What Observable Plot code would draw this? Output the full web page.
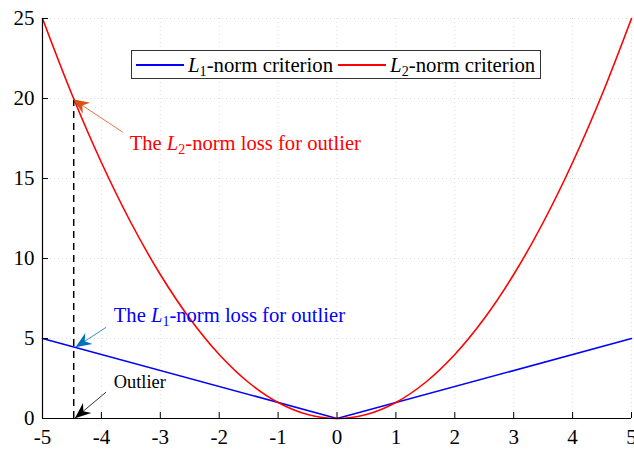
<!DOCTYPE html>
<html>
<head>
<meta charset="utf-8">
<script src="https://cdn.jsdelivr.net/npm/d3@7"></script>
<script src="https://cdn.jsdelivr.net/npm/@observablehq/plot@0.6"></script>
<style>
  body { margin: 0; background: #fff; }
  #wrap { position: relative; width: 634px; height: 451px; overflow: hidden;
          font-family: "Liberation Serif", "Times New Roman", serif; }
  #legend { position: absolute; left: 131px; top: 50px; height: 27px; box-sizing: content-box;
            border: 1px solid #333; background: #fff; display: flex; align-items: center;
            padding: 0 5px 0 3px; font-size: 20.8px; white-space: nowrap; color: #000; }
  #legend .sw { display: inline-block; width: 48px; height: 0; border-top: 2px solid; margin: 0 4px 0 1px; }
  #legend .item { display: inline-flex; align-items: center; }
  #legend .item + .item { margin-left: 4px; }
  sub { font-size: 68%; vertical-align: -0.3em; line-height: 0; }
</style>
</head>
<body>
<div id="wrap"></div>
<script>
// Axis ticks
const xTicks = [-5, -4, -3, -2, -1, 0, 1, 2, 3, 4, 5];
const yTicks = [0, 5, 10, 15, 20, 25];

// L2-norm loss (squared error) sampled along x
const l2X = [-5, -4.5, -4, -3.5, -3, -2.5, -2, -1.5, -1, -0.5, 0, 0.5, 1, 1.5, 2, 2.5, 3, 3.5, 4, 4.5, 5];
const l2Loss = [25, 20.25, 16, 12.25, 9, 6.25, 4, 2.25, 1, 0.25, 0, 0.25, 1, 2.25, 4, 6.25, 9, 12.25, 16, 20.25, 25];

// L1-norm loss (absolute error)
const l1X = [-5, 0, 5];
const l1Loss = [5, 0, 5];

// The outlier and its two losses
const outlierX = -4.47;
const outlierL2 = 20;
const outlierL1 = 4.47;

// Legend entries
const legendLabels = ["L_1-norm criterion", "L_2-norm criterion"];
const legendColors = ["#0000ff", "#ff0000"];

// Annotation arrows: tail -> tip
const arrowTailX = [-3.64, -3.92, -3.92];
const arrowTailY = [17.9, 5.7, 1.65];
const arrowTipX  = [-4.48, -4.44, -4.45];
const arrowTipY  = [19.95, 4.45, 0.02];
const arrowColor = ["#d95319", "#0072bd", "#000000"];

// Annotation labels
const noteText  = ["The L_2-norm loss for outlier", "The L_1-norm loss for outlier", "Outlier"];
const noteX     = [-3.52, -3.79, -3.79];
const noteY     = [17.2, 6.45, 2.3];
const noteColor = ["#ff0000", "#0000ff", "#000000"];
const noteSize  = [20.6, 20.6, 18.4];

// Layout
const W = 634, H = 451;
const mL = 42, mR = 3, mT = 18, mB = 33;

const l2 = l2X.map((x, i) => ({x, y: l2Loss[i]}));
const l1 = l1X.map((x, i) => ({x, y: l1Loss[i]}));

const sx = Plot.scale({x: {domain: [-5, 5], range: [mL, W - mR]}});
const sy = Plot.scale({y: {domain: [0, 25], range: [H - mB, mT]}});

const arrows = arrowTailX.map((_, i) => {
  const dx = sx.apply(arrowTipX[i]) - sx.apply(arrowTailX[i]);
  const dy = sy.apply(arrowTipY[i]) - sy.apply(arrowTailY[i]);
  return {
    x1: arrowTailX[i], y1: arrowTailY[i], x2: arrowTipX[i], y2: arrowTipY[i],
    color: arrowColor[i], angle: Math.atan2(dy, dx) * 180 / Math.PI
  };
});

const notes = noteText.map((text, i) => ({text, x: noteX[i], y: noteY[i], color: noteColor[i], size: noteSize[i]}));

// Filled, notched arrow head pointing along +x with its tip at the origin
const arrowHead = {
  draw(ctx) {
    ctx.moveTo(0, 0);
    ctx.lineTo(-16, -6.5);
    ctx.lineTo(-11, 0);
    ctx.lineTo(-16, 6.5);
    ctx.closePath();
  }
};

const grid = {stroke: "#d4d4d4", strokeOpacity: 1, strokeDasharray: "1,3", strokeWidth: 0.8};

const chart = Plot.plot({
  width: W, height: H,
  marginLeft: mL, marginRight: mR, marginTop: mT, marginBottom: mB,
  x: {domain: [-5, 5]},
  y: {domain: [0, 25]},
  color: {type: "identity"},
  style: {fontFamily: '"Liberation Serif", "Times New Roman", serif', fontSize: "21px", background: "#fff", color: "#000"},
  marks: [
    Plot.gridX(xTicks, grid),
    Plot.gridY(yTicks, grid),
    Plot.line(l1, {x: "x", y: "y", stroke: "#0000ff", strokeWidth: 1.6}),
    Plot.line(l2, {x: "x", y: "y", stroke: "#ff0000", strokeWidth: 1.6, curve: "catmull-rom"}),
    Plot.ruleX([outlierX], {y1: 0, y2: outlierL2, stroke: "#000", strokeWidth: 1.5, strokeDasharray: "7,5"}),
    Plot.link(arrows, {x1: "x1", y1: "y1", x2: "x2", y2: "y2", stroke: "color", strokeWidth: 0.8}),
    Plot.dot(arrows, {x: "x2", y: "y2", rotate: "angle", symbol: arrowHead, fill: "color", stroke: "none"}),
    Plot.text(notes, {x: "x", y: "y", text: "text", fill: "color", fontSize: "size",
                      textAnchor: "start", lineAnchor: "middle", className: "note"}),
    Plot.ruleY([0], {stroke: "#000", strokeWidth: 1.2}),
    Plot.ruleX([-5], {stroke: "#000", strokeWidth: 1.2}),
    Plot.axisX(xTicks, {tickSize: -6, tickPadding: 17, tickFormat: d => String(d), label: null}),
    Plot.axisY(yTicks, {tickSize: -6, tickPadding: 14, tickFormat: d => String(d), label: null})
  ]
});

// Typeset "L_n" as an italic L with a subscript digit
const NS = "http://www.w3.org/2000/svg";
chart.querySelectorAll("g.note text").forEach(t => {
  const m = t.textContent.match(/^(.*)L_(\d)(.*)$/);
  if (!m) return;
  t.textContent = "";
  const add = (s, attrs = {}) => {
    const e = document.createElementNS(NS, "tspan");
    e.textContent = s;
    for (const k in attrs) e.setAttribute(k, attrs[k]);
    t.appendChild(e);
  };
  add(m[1]);
  add("L", {"font-style": "italic"});
  add(m[2], {"font-size": "14", dy: "4"});
  add(m[3], {dy: "-4"});
});

const wrap = document.getElementById("wrap");
wrap.appendChild(chart);

// Legend box
const legend = document.createElement("div");
legend.id = "legend";
legendLabels.forEach((label, i) => {
  const [, n] = label.match(/L_(\d)/);
  const rest = label.replace(/L_\d/, "");
  const item = document.createElement("span");
  item.className = "item";
  item.innerHTML = `<span class="sw" style="border-color:${legendColors[i]}"></span><span><i>L</i><sub>${n}</sub>${rest}</span>`;
  legend.appendChild(item);
});
wrap.appendChild(legend);
</script>
</body>
</html>
